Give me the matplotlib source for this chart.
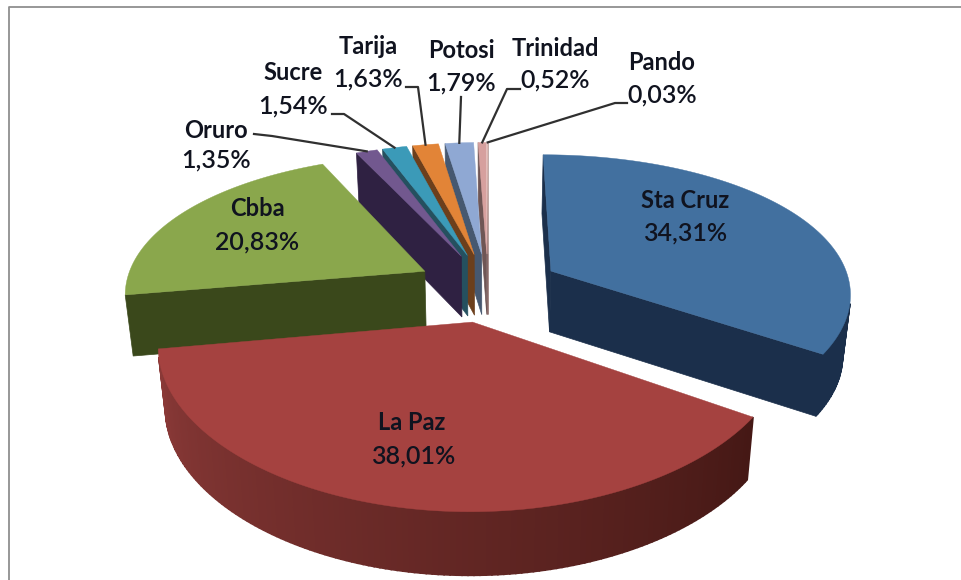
import numpy as np
import matplotlib
matplotlib.use('Agg')
import matplotlib.pyplot as plt
from matplotlib.colors import to_rgb

names = ['Sta Cruz', 'La Paz', 'Cbba', 'Oruro', 'Sucre', 'Tarija', 'Potosi', 'Trinidad', 'Pando']
values = [34.31, 38.01, 20.83, 1.35, 1.54, 1.63, 1.79, 0.52, 0.03]
value_labels = ['34,31%', '38,01%', '20,83%', '1,35%', '1,54%', '1,63%', '1,79%', '0,52%', '0,03%']

top_colors = ['#42709f', '#a54240', '#8aa74c', '#72588f', '#3b9ab8', '#e28437', '#8fa8d3', '#d6a09e', '#f0c8c0']
side_colors = ['#1b2f4b', '#8b3a38', '#3a481b', '#2f2142', '#25505f', '#6c3f1c', '#465870', '#6f5655', '#8a6a68']
side_dark = ['#1b2f4b', '#451815', '#3a481b', '#2f2142', '#25505f', '#6c3f1c', '#465870', '#6f5655', '#8a6a68']

# camera for the tilted pie, fitted by eye
cx, cy = 488, 287
rx, ry = 300, 142
depth_x, depth_y, depth_z = 7, 5.66, 30
thick = 61
taper = 0.022
explode = 0.242

# label centres, leader start
name_pos = [(685, 201), (412, 423), (257, 209), (216, 130), (293, 73), (368, 47), (461, 50), (555, 48), (662, 62)]
value_pos = [(685, 233), (413, 456), (257, 242), (216, 160), (293, 106), (368, 79), (461, 83), (555, 80), (662, 95)]
leader_pos = [None, None, None, [(254, 134), (272, 136)], [(332, 114), (344, 114)], [(406, 87), (418, 87)],
              [(461, 97), (461, 97)], [(520, 89), (507, 89)], [(627, 103), (615, 103)]]


def project(u, v, z=0):
    x = cx + rx * u / (1 - v / depth_x) * (1 - taper * z)
    y = cy + ry * v / (1 - v / depth_y) + thick * z / (1 - v / depth_z)
    return x, y


def rim(ang, ox, oy, z=0):
    return project(ox + np.sin(ang), oy - np.cos(ang), z)


def facing(p, q, pb, qb):
    pts = [p, q, qb, pb]
    area = 0
    for i in range(4):
        x0, y0 = pts[i]
        x1, y1 = pts[(i + 1) % 4]
        area += x0 * y1 - x1 * y0
    return area < 0


fig = plt.figure(figsize=(9.61, 5.8), dpi=100)
ax = fig.add_axes([0, 0, 1, 1])
ax.set_xlim(0, 961)
ax.set_ylim(580, 0)
ax.axis('off')

# frame only shows on the top and left
ax.plot([8.5, 8.5, 961], [580, 6.5, 6.5], color='#8f8f8f', lw=1.3)

bounds = np.cumsum([0] + values) / sum(values) * 2 * np.pi
order = [8, 7, 6, 5, 4, 3, 0, 2, 1]

ends = {}
for n, i in enumerate(order):
    a, b = bounds[i], bounds[i + 1]
    mid = (a + b) / 2
    ox, oy = explode * np.sin(mid), -explode * np.cos(mid)
    arc = np.linspace(a, b, max(4, int((b - a) * 60)))
    apex, apex_b = project(ox, oy), project(ox, oy, 1)
    z0 = n * 3 + 2

    for p, q, pb, qb in [(apex, rim(a, ox, oy), apex_b, rim(a, ox, oy, 1)),
                         (rim(b, ox, oy), apex, rim(b, ox, oy, 1), apex_b)]:
        if facing(p, q, pb, qb):
            ax.fill(*zip(p, q, qb, pb), color=side_dark[i] if i == 1 else side_colors[i], lw=0.5, zorder=z0)

    c0, c1 = np.array(to_rgb(side_dark[i])), np.array(to_rgb(side_colors[i]))
    for j in range(len(arc) - 1):
        p, q = rim(arc[j], ox, oy), rim(arc[j + 1], ox, oy)
        pb, qb = rim(arc[j], ox, oy, 1), rim(arc[j + 1], ox, oy, 1)
        if facing(p, q, pb, qb):
            t = j / (len(arc) - 2)
            ax.fill(*zip(p, q, qb, pb), color=c0 + (c1 - c0) * t, lw=1.2, zorder=z0 + 1)

    top = [apex] + [rim(t, ox, oy) for t in arc]
    ax.fill(*zip(*top), color=top_colors[i], lw=0.3, zorder=z0 + 2)
    ends[i] = rim(mid, ox, oy)

for i, pts in enumerate(leader_pos):
    if pts:
        line = pts + [ends[i]]
        ax.plot(*zip(*line), color='#303030', lw=1.6, zorder=40)

for i in range(len(names)):
    ax.text(*name_pos[i], names[i], family='Lato', weight='bold', fontsize=17, color='#10131f',
            ha='center', va='center', zorder=50)
    ax.text(*value_pos[i], value_labels[i], family='Lato', weight='semibold', fontsize=18, color='#10131f',
            ha='center', va='center', zorder=50)

fig.savefig('out.png', dpi=100)
plt.close(fig)
